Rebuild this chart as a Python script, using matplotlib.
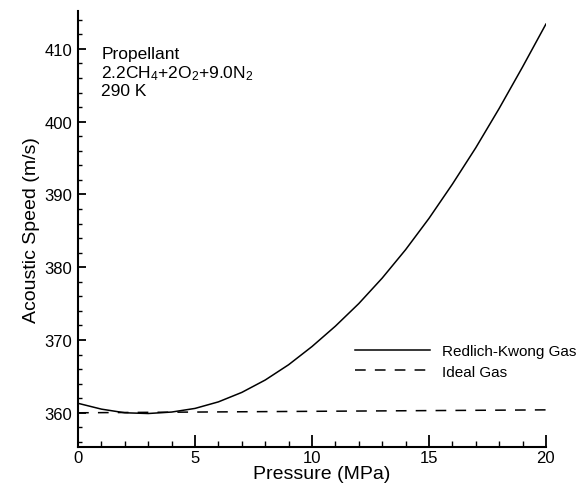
import numpy as np
import matplotlib as mpl
mpl.use('Agg')
import matplotlib.pyplot as plt
from matplotlib.ticker import MultipleLocator

plt.rcParams['font.family'] = ['Liberation Sans', 'DejaVu Sans']
plt.rcParams['mathtext.default'] = 'regular'

# pressure (MPa) and acoustic speed (m/s)
pressure = [0, 1, 2, 3, 4, 5, 6, 7, 8, 9, 10, 11, 12, 13, 14, 15, 16, 17, 18, 19, 20]
speed_rk = [361.3, 360.5, 360.0, 359.9, 360.1, 360.6, 361.5, 362.8, 364.5, 366.6,
            369.1, 371.9, 375.0, 378.5, 382.4, 386.7, 391.4, 396.4, 401.8, 407.5, 413.4]
pressure_ideal = [0, 5, 10, 15, 20]
speed_ideal = [360.0, 360.1, 360.2, 360.3, 360.4]

fig = plt.figure(figsize=(5.87, 4.85), dpi=100)
ax = fig.add_axes([0.133, 0.0763, 0.797, 0.899])

ax.plot(pressure, speed_rk, color='black', lw=1.1, label='Redlich-Kwong Gas')
ax.plot(pressure_ideal, speed_ideal, color='black', lw=1.1,
        dashes=(7, 6), label='Ideal Gas')

ax.set_xlim(0, 20)
ax.set_ylim(355.3, 415.2)

# only left and bottom axes, ticks inside
ax.spines['top'].set_visible(False)
ax.spines['right'].set_visible(False)
ax.spines['left'].set_linewidth(1.5)
ax.spines['bottom'].set_linewidth(1.5)

ax.xaxis.set_major_locator(MultipleLocator(5))
ax.xaxis.set_minor_locator(MultipleLocator(1))
ax.yaxis.set_major_locator(MultipleLocator(10))
ax.yaxis.set_minor_locator(MultipleLocator(2))
ax.tick_params(axis='x', which='major', direction='in', length=8.5, width=1.3,
               labelsize=12, pad=2)
ax.tick_params(axis='x', which='minor', direction='in', length=4.3, width=1.0)
ax.tick_params(axis='y', which='major', direction='in', length=6, width=1.3,
               labelsize=12, pad=4)
ax.tick_params(axis='y', which='minor', direction='in', length=3, width=1.0)

ax.set_xlabel('Pressure (MPa)', fontsize=14, labelpad=0)
ax.xaxis.label.set_x(0.521)
ax.set_ylabel('Acoustic Speed (m/s)', fontsize=14, labelpad=3)

ax.text(1.0, 410.4, 'Propellant', fontsize=12.5, va='top', ha='left')
ax.text(1.0, 408.0, '2.2CH$_4$+2O$_2$+9.0N$_2$', fontsize=12.5, va='top', ha='left')
ax.text(1.0, 405.3, '290 K', fontsize=12.5, va='top', ha='left')

ax.legend(loc='center left', bbox_to_anchor=(0.592, 0.196), frameon=False,
          fontsize=11, handlelength=4.9, handletextpad=0.8, borderpad=0,
          borderaxespad=0, labelspacing=0.4)

fig.savefig('out.png', dpi=100)
